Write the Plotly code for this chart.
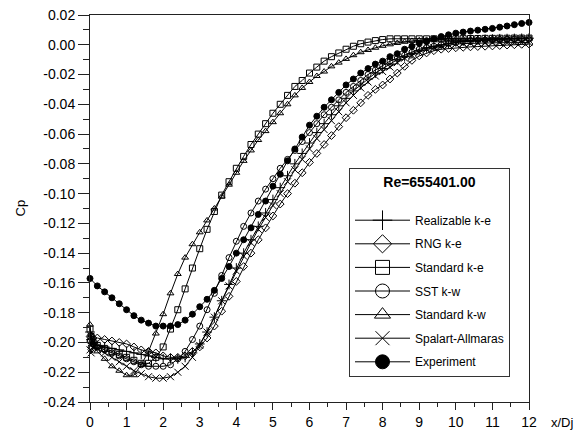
import plotly.graph_objects as go

# ---------------- data ----------------
x_exp = [round(0.2 * i, 1) for i in range(61)]
cp_exp = [-0.157, -0.162, -0.166, -0.170, -0.174, -0.178, -0.182, -0.185, -0.187, -0.189,
          -0.189, -0.189, -0.188, -0.185, -0.181, -0.176, -0.171, -0.165, -0.157, -0.149,
          -0.140, -0.131, -0.123, -0.114, -0.105, -0.095, -0.087, -0.078, -0.070, -0.062,
          -0.054, -0.048, -0.042, -0.037, -0.032, -0.027, -0.023, -0.019, -0.016, -0.013,
          -0.011, -0.008, -0.006, -0.003, -0.001, 0.001, 0.002, 0.004, 0.0055, 0.0067,
          0.0078, 0.0085, 0.0092, 0.0098, 0.0104, 0.0110, 0.0118, 0.0126, 0.0135, 0.0143,
          0.0150]

# CFD stations: a few points at the nozzle exit, then every 0.2 x/Dj
x_cfd = [0.0, 0.03, 0.08] + [round(0.2 * i, 1) for i in range(1, 61)]

cp_realizable = [-0.193, -0.198, -0.200,
                 -0.202, -0.203, -0.204, -0.205, -0.206, -0.207, -0.208, -0.209, -0.210, -0.211,
                 -0.211, -0.211, -0.210, -0.207, -0.201, -0.193, -0.183, -0.172, -0.161, -0.150,
                 -0.140, -0.131, -0.122, -0.113, -0.104, -0.096, -0.088, -0.080, -0.073, -0.066,
                 -0.059, -0.053, -0.047, -0.041, -0.036, -0.031, -0.027, -0.023, -0.019, -0.016,
                 -0.013, -0.010, -0.008, -0.006, -0.004, -0.002, -0.001, 0.000, 0.001, 0.002,
                 0.0025, 0.003, 0.0033, 0.0036, 0.0038, 0.004, 0.0041, 0.0042, 0.0043, 0.0044,
                 0.0045]

cp_rng = [-0.196, -0.199, -0.197,
          -0.197, -0.198, -0.199, -0.200, -0.201, -0.203, -0.205, -0.206, -0.207, -0.209,
          -0.210, -0.210, -0.209, -0.206, -0.203, -0.197, -0.189, -0.179, -0.169, -0.159,
          -0.149, -0.140, -0.131, -0.123, -0.115, -0.107, -0.100, -0.093, -0.086, -0.079,
          -0.073, -0.067, -0.061, -0.055, -0.049, -0.044, -0.039, -0.034, -0.030, -0.027,
          -0.023, -0.019, -0.0145, -0.0105, -0.0075, -0.0055, -0.004, -0.003, -0.0025, -0.002,
          -0.0017, -0.0014, -0.0012, -0.001, -0.0008, -0.0005, -0.0002, 0.0, 0.0003, 0.0005,
          0.0007]

cp_std_ke = [-0.191, -0.196, -0.199,
             -0.202, -0.204, -0.206, -0.208, -0.210, -0.212, -0.214, -0.214, -0.210, -0.203,
             -0.191, -0.178, -0.164, -0.150, -0.137, -0.124, -0.112, -0.101, -0.092, -0.083,
             -0.075, -0.067, -0.060, -0.053, -0.046, -0.040, -0.034, -0.028, -0.024, -0.019,
             -0.015, -0.011, -0.008, -0.0055, -0.003, -0.001, 0.0007, 0.0018, 0.0028, 0.0035,
             0.004, 0.004, 0.004, 0.004, 0.004, 0.004, 0.004, 0.004, 0.004, 0.004,
             0.0041, 0.0042, 0.0042, 0.0043, 0.0043, 0.0044, 0.0044, 0.0045, 0.0045, 0.0045,
             0.0045]

cp_sst = [-0.199, -0.203, -0.201,
          -0.203, -0.205, -0.207, -0.209, -0.211, -0.213, -0.215, -0.216, -0.216, -0.216,
          -0.215, -0.211, -0.206, -0.198, -0.189, -0.178, -0.167, -0.155, -0.143, -0.132,
          -0.122, -0.113, -0.105, -0.097, -0.090, -0.083, -0.077, -0.071, -0.065, -0.059,
          -0.053, -0.047, -0.042, -0.037, -0.032, -0.028, -0.024, -0.020, -0.017, -0.014,
          -0.011, -0.009, -0.007, -0.005, -0.003, -0.002, -0.001, 0.000, 0.001, 0.0015,
          0.002, 0.0025, 0.0028, 0.003, 0.0033, 0.0035, 0.0038, 0.004, 0.0041, 0.0042,
          0.0042]

cp_std_kw = [-0.188, -0.195, -0.200,
             -0.206, -0.211, -0.216, -0.219, -0.222, -0.222, -0.215, -0.206, -0.194, -0.181,
             -0.167, -0.154, -0.143, -0.134, -0.126, -0.118, -0.110, -0.102, -0.094, -0.086,
             -0.078, -0.071, -0.064, -0.058, -0.052, -0.046, -0.040, -0.034, -0.029, -0.025,
             -0.021, -0.018, -0.0145, -0.012, -0.0095, -0.007, -0.005, -0.0035, -0.002, -0.0007,
             0.0003, 0.0012, 0.002, 0.0026, 0.003, 0.0033, 0.0035, 0.0036, 0.0037, 0.0038,
             0.0038, 0.0039, 0.0039, 0.004, 0.004, 0.0041, 0.0041, 0.0042, 0.0042, 0.0042,
             0.0042]

cp_spalart = [-0.205, -0.207, -0.203,
              -0.204, -0.207, -0.210, -0.213, -0.216, -0.219, -0.221, -0.223, -0.224, -0.224,
              -0.223, -0.220, -0.216, -0.210, -0.202, -0.193, -0.183, -0.172, -0.162, -0.152,
              -0.142, -0.133, -0.124, -0.116, -0.108, -0.100, -0.092, -0.084, -0.077, -0.070,
              -0.063, -0.057, -0.051, -0.045, -0.039, -0.034, -0.029, -0.025, -0.021, -0.018,
              -0.015, -0.012, -0.009, -0.007, -0.005, -0.003, -0.002, -0.001, 0.000, 0.0005,
              0.0008, 0.001, 0.0011, 0.0012, 0.0013, 0.0014, 0.0014, 0.0015, 0.0015, 0.0015,
              0.0015]

series = [
    ("Realizable k-e", x_cfd, cp_realizable, "cross-thin-open", 7),
    ("RNG k-e", x_cfd, cp_rng, "diamond-open", 6),
    ("Standard k-e", x_cfd, cp_std_ke, "square-open", 6),
    ("SST k-w", x_cfd, cp_sst, "circle-open", 6),
    ("Standard k-w", x_cfd, cp_std_kw, "triangle-up-open", 6),
    ("Spalart-Allmaras", x_cfd, cp_spalart, "x-thin-open", 7),
    ("Experiment", x_exp, cp_exp, "circle", 6),
]

x_ticks = list(range(0, 13))
y_ticks = [round(-0.24 + 0.02 * i, 2) for i in range(14)]
legend_title = "Re=655401.00"

FONT = "Arial, Liberation Sans, sans-serif"
AX = "#222222"

fig = go.Figure()
for name, xs, ys, sym, ms in series:
    fig.add_trace(go.Scatter(
        x=xs, y=ys, mode="lines+markers", name=name, showlegend=False,
        line=dict(color="black", width=1),
        marker=dict(symbol=sym, size=ms, color="black",
                    line=dict(color="black", width=1)),
        cliponaxis=False,
    ))
# legend entries with larger symbols
for i, (name, xs, ys, sym, ms) in enumerate(series):
    fig.add_trace(go.Scatter(
        x=[None], y=[None], mode="lines+markers", name=name, showlegend=True,
        legendgroup="g%d" % i,
        line=dict(color="black", width=1),
        marker=dict(symbol=sym, size=14, color="black",
                    line=dict(color="black", width=1)),
    ))

# the page body adds an 8px offset; margins are chosen so the plot box sits at
# x 90..529, y 14.5..402 in the 582x437 window
fig.update_layout(
    width=582, height=437,
    margin=dict(l=82, r=61, t=6.5, b=43, autoexpand=False),
    paper_bgcolor="white", plot_bgcolor="white",
    font=dict(family=FONT, size=14, color="black"),
    showlegend=True,
    legend=dict(
        x=(341 - 82) / 439, y=(394 - 160) / 387.5, xanchor="left", yanchor="top",
        bgcolor="white", bordercolor="#333333", borderwidth=1,
        font=dict(family=FONT, size=12, color="black"),
        title=dict(text="<b>" + legend_title + "</b><br> ", side="top center",
                   font=dict(family=FONT, size=14)),
        itemwidth=55, tracegroupgap=4.6,
    ),
    xaxis=dict(
        range=[0, 12], tickvals=x_ticks, ticktext=[str(v) for v in x_ticks],
        showgrid=False, zeroline=False, showline=True, linecolor=AX, linewidth=1,
        mirror=True, ticks="outside", ticklen=7, tickcolor=AX, automargin=False,
        minor=dict(dtick=0.5, ticks="outside", ticklen=4, tickcolor=AX),
        tickfont=dict(size=14), ticklabeloverflow="allow",
    ),
    yaxis=dict(
        range=[-0.24, 0.02], tickvals=y_ticks, ticktext=["%.2f" % v for v in y_ticks],
        showgrid=False, zeroline=False, showline=True, linecolor=AX, linewidth=1,
        mirror=True, ticks="outside", ticklen=11, tickcolor=AX, automargin=False,
        minor=dict(dtick=0.01, ticks="outside", ticklen=6, tickcolor=AX),
        tickfont=dict(size=14), ticklabeloverflow="allow",
    ),
    annotations=[
        dict(text="Cp", xref="paper", yref="paper", x=(12 - 82) / 439, y=0.5,
             xanchor="center", yanchor="middle", showarrow=False,
             textangle=-90, font=dict(size=13)),
        dict(text="x/Dj", xref="paper", yref="paper", x=(568 - 82) / 439, y=0,
             yshift=-20, xanchor="right", yanchor="middle", showarrow=False,
             font=dict(size=13)),
    ],
)

fig.write_html("out.html")
